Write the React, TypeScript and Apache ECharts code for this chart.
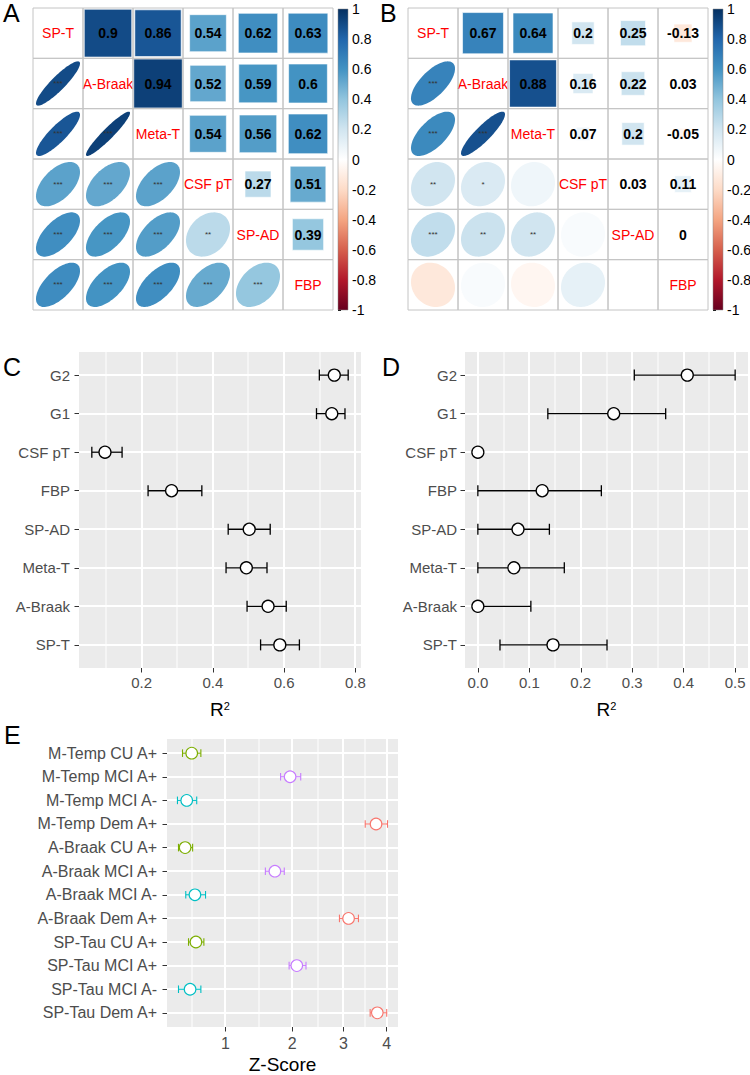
import React, { useEffect, useRef } from 'react';
import * as echarts from 'echarts';

const FONT = '"Liberation Sans", Arial, sans-serif';

// ---------- Panels A & B : correlation matrices ----------
const corrLabels = ['SP-T', 'A-Braak', 'Meta-T', 'CSF pT', 'SP-AD', 'FBP'];
const corrA = [
  [1, 0.9, 0.86, 0.54, 0.62, 0.63],
  [0.9, 1, 0.94, 0.52, 0.59, 0.6],
  [0.86, 0.94, 1, 0.54, 0.56, 0.62],
  [0.54, 0.52, 0.54, 1, 0.27, 0.51],
  [0.62, 0.59, 0.56, 0.27, 1, 0.39],
  [0.63, 0.6, 0.62, 0.51, 0.39, 1],
];
const starsA = [
  ['', '', '', '', '', ''],
  ['***', '', '', '', '', ''],
  ['***', '***', '', '', '', ''],
  ['***', '***', '***', '', '', ''],
  ['***', '***', '***', '**', '', ''],
  ['***', '***', '***', '***', '***', ''],
];
const corrB = [
  [1, 0.67, 0.64, 0.2, 0.25, -0.13],
  [0.67, 1, 0.88, 0.16, 0.22, 0.03],
  [0.64, 0.88, 1, 0.07, 0.2, -0.05],
  [0.2, 0.16, 0.07, 1, 0.03, 0.11],
  [0.25, 0.22, 0.2, 0.03, 1, 0],
  [-0.13, 0.03, -0.05, 0.11, 0, 1],
];
const starsB = [
  ['', '', '', '', '', ''],
  ['***', '', '', '', '', ''],
  ['***', '***', '', '', '', ''],
  ['**', '*', '', '', '', ''],
  ['***', '**', '**', '', '', ''],
  ['', '', '', '', '', ''],
];
const rdbuPalette = ['#67001F', '#B2182B', '#D6604D', '#F4A582', '#FDDBC7', '#FFFFFF',
  '#D1E5F0', '#92C5DE', '#4393C3', '#2166AC', '#053061'];

// ---------- Panels C & D : R^2 ----------
const r2Labels = ['G2', 'G1', 'CSF pT', 'FBP', 'SP-AD', 'Meta-T', 'A-Braak', 'SP-T'];
const r2C_est = [0.741, 0.734, 0.097, 0.284, 0.502, 0.494, 0.555, 0.588];
const r2C_lo = [0.699, 0.691, 0.060, 0.218, 0.443, 0.437, 0.496, 0.534];
const r2C_hi = [0.780, 0.771, 0.145, 0.369, 0.561, 0.552, 0.606, 0.643];
const r2D_est = [0.407, 0.264, 0, 0.125, 0.078, 0.070, 0, 0.146];
const r2D_lo = [0.304, 0.136, 0, 0, 0, 0, 0, 0.043];
const r2D_hi = [0.500, 0.365, 0, 0.240, 0.139, 0.168, 0.103, 0.251];
const cMajor = [0.2, 0.4, 0.6, 0.8];
const cMinor = [0.1, 0.3, 0.5, 0.7];
const dMajor = [0, 0.1, 0.2, 0.3, 0.4, 0.5];
const dMinor = [0.05, 0.15, 0.25, 0.35, 0.45];

// ---------- Panel E : Z-scores (sqrt axis) ----------
const zLabels = ['M-Temp CU A+', 'M-Temp MCI A+', 'M-Temp MCI A-', 'M-Temp Dem A+',
  'A-Braak CU A+', 'A-Braak MCI A+', 'A-Braak MCI A-', 'A-Braak Dem A+',
  'SP-Tau CU A+', 'SP-Tau MCI A+', 'SP-Tau MCI A-', 'SP-Tau Dem A+'];
const zGroup = ['CU A+', 'MCI A+', 'MCI A-', 'Dem A+', 'CU A+', 'MCI A+', 'MCI A-', 'Dem A+',
  'CU A+', 'MCI A+', 'MCI A-', 'Dem A+'];
const zEst = [0.626, 1.963, 0.578, 3.74, 0.563, 1.708, 0.658, 3.11, 0.668, 2.081, 0.610, 3.77];
const zLo = [0.539, 1.801, 0.494, 3.485, 0.503, 1.557, 0.569, 2.914, 0.595, 1.946, 0.503, 3.60];
const zHi = [0.719, 2.152, 0.676, 4.02, 0.635, 1.863, 0.769, 3.33, 0.751, 2.249, 0.719, 4.0];
const zTicks = [1, 2, 3, 4];
const zMinor = [0.629, 1.457, 2.474, 3.482];
const groupColors: Record<string, string> = {
  'Dem A+': '#F8766D', 'CU A+': '#7CAE00', 'MCI A-': '#00BFC4', 'MCI A+': '#C77CFF',
};

function hexToRgb(h: string) {
  const n = parseInt(h.slice(1), 16);
  return [(n >> 16) & 255, (n >> 8) & 255, n & 255];
}
function corrColor(r: number) {
  const n = rdbuPalette.length;
  const t = ((Math.max(-1, Math.min(1, r)) + 1) / 2) * (n - 1);
  const k = Math.min(n - 2, Math.floor(t));
  const f = t - k;
  const a = hexToRgb(rdbuPalette[k]);
  const b = hexToRgb(rdbuPalette[k + 1]);
  const c = a.map((v, i) => Math.round(v + (b[i] - v) * f));
  return `rgb(${c[0]},${c[1]},${c[2]})`;
}

function txt(text: string, x: number, y: number, font: string, fill: string, align = 'center') {
  return {
    type: 'text',
    style: {
      text, x, y, font, fill,
      textAlign: align, textVerticalAlign: 'middle', align, verticalAlign: 'middle',
    },
  };
}

function corrSeries(mat: number[][], stars: string[][], idx: number) {
  const data: number[][] = [];
  for (let i = 0; i < mat.length; i++) for (let j = 0; j < mat.length; j++) data.push([j, i]);
  return {
    type: 'custom', xAxisIndex: idx, yAxisIndex: idx, data, encode: { x: 0, y: 1 }, silent: true,
    renderItem: (params: any, api: any) => {
      const j = api.value(0);
      const i = api.value(1);
      const r = mat[i][j];
      const [cx, cy] = api.coord([j, i]);
      const [w, h] = api.size([1, 1]);
      const children: any[] = [];
      if (i === j) {
        children.push(txt(corrLabels[i], cx, cy, `14px ${FONT}`, '#FF0000'));
      } else if (j > i) {
        const s = Math.sqrt(Math.abs(r));
        children.push({
          type: 'rect',
          shape: { x: cx - (s * w) / 2, y: cy - (s * h) / 2, width: s * w, height: s * h },
          style: { fill: corrColor(r), stroke: 'rgba(255,255,255,0.6)', lineWidth: 1 },
        });
        children.push(txt(String(r), cx, cy, `bold 14px ${FONT}`, '#000'));
      } else {
        const a = Math.acos(Math.max(-1, Math.min(1, r)));
        const S = 0.88;
        const pts: number[][] = [];
        for (let k = 0; k < 90; k++) {
          const t = (k / 90) * 2 * Math.PI;
          const ex = (Math.cos(t + a / 2) / 2) * S;
          const ey = (Math.cos(t - a / 2) / 2) * S;
          pts.push([cx + ex * w, cy - ey * h]);
        }
        children.push({ type: 'polygon', shape: { points: pts }, style: { fill: corrColor(r) } });
        if (stars[i][j]) children.push(txt(stars[i][j], cx, cy, `8px ${FONT}`, '#333'));
      }
      children.push({
        type: 'rect', shape: { x: cx - w / 2, y: cy - h / 2, width: w, height: h },
        style: { fill: 'none', stroke: '#C4C4C4', lineWidth: 1 },
      });
      return { type: 'group', children };
    },
  };
}

function cbarSeries(idx: number) {
  const n = rdbuPalette.length;
  const stops = rdbuPalette.map((c, k) => ({ offset: 1 - k / (n - 1), color: c })).reverse();
  return {
    type: 'custom', xAxisIndex: idx, yAxisIndex: idx, data: [[0, 0]], silent: true,
    renderItem: (params: any, api: any) => {
      const top = api.coord([0, 1]);
      const bot = api.coord([1, -1]);
      return {
        type: 'rect',
        shape: { x: top[0], y: top[1], width: bot[0] - top[0], height: bot[1] - top[1] },
        style: { fill: new echarts.graphic.LinearGradient(0, 0, 0, 1, stops), stroke: '#888', lineWidth: 0.5 },
      };
    },
  };
}

// panel background and white grid lines (snapped to whole pixels), positions from the axis scales
function panelSeries(idx: number, xMin: number, xMax: number, nCats: number,
  majors: number[], minors: number[], toAxis: (v: number) => number) {
  return {
    type: 'custom', xAxisIndex: idx, yAxisIndex: idx, z: 1, silent: true, clip: false,
    data: [[xMin, 0]], encode: { x: 0, y: 1 },
    renderItem: (params: any, api: any) => {
      const r0 = api.coord([xMin, 0]);
      const r1 = api.coord([xMin, 1]);
      const rowH = r1[1] - r0[1];
      const top = Math.round(r0[1] - 0.6 * rowH);
      const bottom = Math.round(r0[1] + (nCats - 1 + 0.6) * rowH);
      const left = Math.round(r0[0]);
      const right = Math.round(api.coord([xMax, 0])[0]);
      const children: any[] = [
        { type: 'rect', shape: { x: left, y: top, width: right - left, height: bottom - top }, style: { fill: '#EBEBEB' } },
      ];
      for (let k = 0; k < nCats; k++) {
        const y = Math.round(api.coord([xMin, k])[1]);
        children.push({ type: 'rect', shape: { x: left, y: y - 1, width: right - left, height: 2 }, style: { fill: '#FFFFFF' } });
      }
      const addV = (v: number, w: number) => {
        const xv = toAxis(v);
        if (xv < xMin || xv > xMax) return;
        const x = Math.round(api.coord([xv, 0])[0]);
        children.push({ type: 'rect', shape: { x: x - w / 2, y: top, width: w, height: bottom - top }, style: { fill: '#FFFFFF' } });
      };
      minors.forEach((v) => addV(v, 1));
      majors.forEach((v) => addV(v, 2));
      return { type: 'group', children };
    },
  };
}

function errSeries(idx: number, est: number[], lo: number[], hi: number[], colors: string[],
  capHalf: number, rad: number, lw: number) {
  const data = est.map((e, k) => [lo[k], e, hi[k], k]);
  return {
    type: 'custom', xAxisIndex: idx, yAxisIndex: idx, data, silent: true, z: 10,
    encode: { x: [0, 1, 2], y: 3 },
    renderItem: (params: any, api: any) => {
      const k = api.value(3);
      const p0 = api.coord([api.value(0), k]);
      const p1 = api.coord([api.value(1), k]);
      const p2 = api.coord([api.value(2), k]);
      const col = colors[params.dataIndex];
      return {
        type: 'group',
        children: [
          { type: 'line', shape: { x1: p0[0], y1: p0[1], x2: p2[0], y2: p2[1] }, style: { stroke: col, lineWidth: lw } },
          { type: 'line', shape: { x1: p0[0], y1: p0[1] - capHalf, x2: p0[0], y2: p0[1] + capHalf }, style: { stroke: col, lineWidth: lw } },
          { type: 'line', shape: { x1: p2[0], y1: p2[1] - capHalf, x2: p2[0], y2: p2[1] + capHalf }, style: { stroke: col, lineWidth: lw } },
          { type: 'circle', shape: { cx: p1[0], cy: p1[1], r: rad }, style: { fill: '#FFFFFF', stroke: col, lineWidth: lw } },
        ],
      };
    },
  };
}

function catAxis(gridIndex: number, n: number, inverse: boolean) {
  return {
    gridIndex, type: 'category', data: corrLabels.slice(0, n), inverse, show: false,
    boundaryGap: true,
  };
}

function ggY(gridIndex: number, labels: string[], fontSize: number, margin: number) {
  const vals = labels.map((_, k) => k);
  return {
    gridIndex, type: 'value', inverse: true, min: -0.6, max: labels.length - 1 + 0.6,
    axisLine: { show: false, onZero: false }, splitLine: { show: false },
    axisTick: { show: true, length: 4.5, lineStyle: { color: '#333333', width: 1 }, customValues: vals },
    axisLabel: {
      customValues: vals, formatter: (v: number) => labels[Math.round(v)] ?? '',
      color: '#4D4D4D', fontSize, fontFamily: FONT, margin,
    },
  };
}

function ggX(gridIndex: number, min: number, max: number, ticks: number[], fmt: (v: number) => string,
  fontSize: number, margin: number, name: string, nameGap: number, nameTextStyle: any) {
  return {
    gridIndex, type: 'value', min, max, position: 'bottom',
    axisLine: { show: false, onZero: false }, splitLine: { show: false },
    axisTick: { show: true, length: 4.5, lineStyle: { color: '#333333', width: 1 }, customValues: ticks },
    axisLabel: { customValues: ticks, formatter: fmt, color: '#4D4D4D', fontSize, fontFamily: FONT, margin },
    name, nameLocation: 'middle', nameGap, nameTextStyle,
  };
}

function cbarX(gridIndex: number) {
  return { gridIndex, type: 'value', min: 0, max: 1, show: false };
}
function cbarY(gridIndex: number) {
  return {
    gridIndex, type: 'value', min: -1, max: 1, interval: 0.2, position: 'right',
    axisLine: { show: false }, splitLine: { show: false },
    axisTick: { show: true, length: 3, lineStyle: { color: '#000', width: 1 } },
    axisLabel: {
      margin: 4, color: '#000', fontSize: 14, fontFamily: FONT,
      formatter: (v: number) => String(Math.round(v * 10) / 10 || 0),
    },
  };
}

const r2Name = {
  rich: {
    r: { fontSize: 19, fontFamily: FONT, color: '#000' },
    s: { fontSize: 11, fontFamily: FONT, color: '#000', verticalAlign: 'top' },
  },
};

const C_RANGE = [0.024, 0.816];
const D_RANGE = [-0.025, 0.525];
const E_RANGE = [0.638, 2.07];

export default function App() {
  const ref = useRef<HTMLDivElement>(null);
  useEffect(() => {
    if (!ref.current) return;
    const chart = echarts.init(ref.current, undefined, { renderer: 'svg' });
    const sqrtTicks = zTicks.map((v) => Math.sqrt(v));
    const letter = (t: string, x: number, y: number) => ({
      type: 'text', x, y,
      style: { text: t, font: `25px ${FONT}`, fill: '#000', textVerticalAlign: 'middle', verticalAlign: 'middle' },
    });
    const g = (o: any) => ({ outerBoundsMode: 'none', containLabel: false, show: false, ...o });
    const nR = r2Labels.length;
    const nZ = zLabels.length;
    const ident = (v: number) => v;
    const option: any = {
      animation: false,
      textStyle: { fontFamily: FONT },
      grid: [
        g({ left: 33, top: 8, width: 300, height: 302 }),
        g({ left: 338, top: 9, width: 10, height: 301 }),
        g({ left: 408, top: 8, width: 300, height: 302 }),
        g({ left: 713, top: 9, width: 10, height: 301 }),
        g({ left: 79, top: 352, width: 282, height: 316 }),
        g({ left: 465, top: 352, width: 283, height: 316 }),
        g({ left: 167, top: 739, width: 231, height: 288 }),
      ],
      xAxis: [
        catAxis(0, 6, false),
        cbarX(1),
        catAxis(2, 6, false),
        cbarX(3),
        ggX(4, C_RANGE[0], C_RANGE[1], cMajor, (v) => v.toFixed(1), 15, 7, '{r|R}{s|2}', 32, r2Name),
        ggX(5, D_RANGE[0], D_RANGE[1], dMajor, (v) => v.toFixed(1), 15, 7, '{r|R}{s|2}', 32, r2Name),
        ggX(6, E_RANGE[0], E_RANGE[1], sqrtTicks, (v) => String(Math.round(v * v)), 16, 8, 'Z-Score', 28,
          { fontSize: 19, fontFamily: FONT, color: '#000' }),
      ],
      yAxis: [
        catAxis(0, 6, true),
        cbarY(1),
        catAxis(2, 6, true),
        cbarY(3),
        ggY(4, r2Labels, 15, 9),
        ggY(5, r2Labels, 15, 8),
        ggY(6, zLabels, 16, 10),
      ],
      graphic: [
        letter('A', 3, 13),
        letter('B', 380, 13),
        letter('C', 3, 367),
        letter('D', 382, 367),
        letter('E', 4, 735),
      ],
      series: [
        corrSeries(corrA, starsA, 0),
        cbarSeries(1),
        corrSeries(corrB, starsB, 2),
        cbarSeries(3),
        panelSeries(4, C_RANGE[0], C_RANGE[1], nR, cMajor, cMinor, ident),
        errSeries(4, r2C_est, r2C_lo, r2C_hi, r2Labels.map(() => '#000'), 5.5, 6, 1.3),
        panelSeries(5, D_RANGE[0], D_RANGE[1], nR, dMajor, dMinor, ident),
        errSeries(5, r2D_est, r2D_lo, r2D_hi, r2Labels.map(() => '#000'), 5.5, 6, 1.3),
        panelSeries(6, E_RANGE[0], E_RANGE[1], nZ, zTicks, zMinor, Math.sqrt),
        errSeries(6, zEst.map(Math.sqrt), zLo.map(Math.sqrt), zHi.map(Math.sqrt),
          zGroup.map((gr) => groupColors[gr]), 3.8, 5.8, 1.1),
      ],
    };
    chart.setOption(option);
    return () => chart.dispose();
  }, []);
  return <div ref={ref} style={{ position: 'absolute', left: 0, top: 0, width: 750, height: 1075, background: '#fff' }} />;
}
